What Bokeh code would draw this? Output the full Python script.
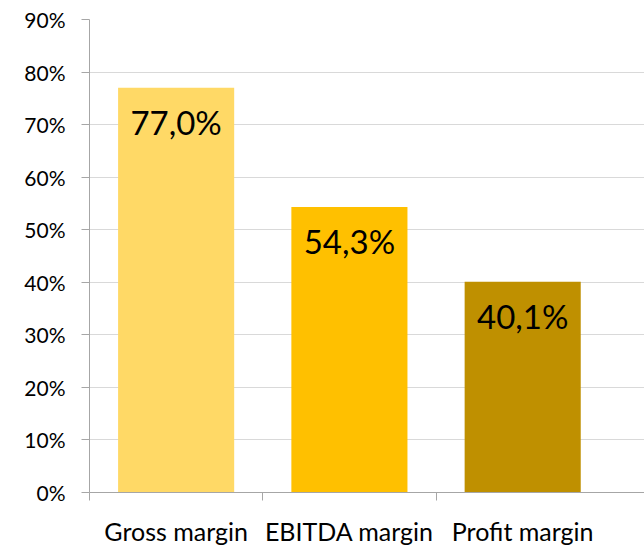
from bokeh.plotting import figure
from bokeh.models import Range1d, FixedTicker, ColumnDataSource
from bokeh.core.properties import value
from bokeh.embed import file_html
from bokeh.resources import INLINE

categories = ["Gross margin", "EBITDA margin", "Profit margin"]
margins = [77.0, 54.3, 40.1]
bar_colors = ["#FFD966", "#FFC000", "#BF9000"]
y_ticks = [0, 10, 20, 30, 40, 50, 60, 70, 80, 90]
y_tick_labels = ["0%", "10%", "20%", "30%", "40%", "50%", "60%", "70%", "80%", "90%"]

FONT = "Lato"

xs = [i + 0.5 for i in range(len(categories))]
labels = [f"{v:.1f}".replace(".", ",") + "%" for v in margins]
src = ColumnDataSource(dict(x=xs, top=margins, color=bar_colors, label=labels))

p = figure(width=644, height=548, output_backend="svg", toolbar_location=None,
           x_range=Range1d(0, 3.203), y_range=Range1d(0, 90),
           min_border_left=89, min_border_top=19, min_border_bottom=50, min_border_right=0)
p.outline_line_color = None
p.background_fill_color = "white"
p.border_fill_color = "white"

p.vbar(x="x", top="top", bottom=0, width=0.67, color="color", source=src, line_color=None)
p.text(x="x", y="top", text="label", source=src, text_align="center", text_baseline="middle",
       y_offset=34, text_font=value(FONT), text_font_size="33px", text_color="black")

# y axis
p.yaxis.ticker = FixedTicker(ticks=y_ticks)
p.yaxis.major_label_overrides = {t: l for t, l in zip(y_ticks, y_tick_labels)}
p.yaxis.major_label_text_font = FONT
p.yaxis.major_label_text_font_size = "21px"
p.yaxis.major_label_text_color = "black"
p.yaxis.major_label_standoff = 16
p.yaxis.axis_line_color = "#A6A6A6"
p.yaxis.major_tick_line_color = "#A6A6A6"
p.yaxis.major_tick_out = 8
p.yaxis.major_tick_in = 0
p.yaxis.minor_tick_line_color = None

p.ygrid.ticker = FixedTicker(ticks=y_ticks)
p.ygrid.grid_line_color = "#D9D9D9"
p.xgrid.grid_line_color = None

# x axis
p.xaxis.ticker = FixedTicker(ticks=xs, minor_ticks=[0, 1, 2])
p.xaxis.major_label_overrides = {x: c for x, c in zip(xs, categories)}
p.xaxis.major_label_text_font = FONT
p.xaxis.major_label_text_font_size = "25px"
p.xaxis.major_label_text_color = "black"
p.xaxis.major_label_standoff = 15
p.xaxis.axis_line_color = "#A6A6A6"
p.xaxis.major_tick_line_color = None
p.xaxis.major_tick_out = 0
p.xaxis.major_tick_in = 0
p.xaxis.minor_tick_line_color = "#A6A6A6"
p.xaxis.minor_tick_out = 8
p.xaxis.minor_tick_in = 0

open("out.html", "w").write(file_html(p, INLINE))
